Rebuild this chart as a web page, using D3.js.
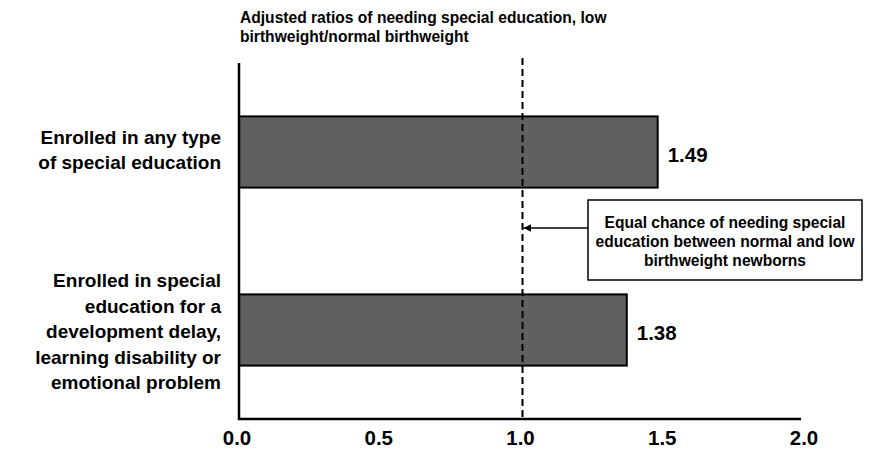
<!DOCTYPE html>
<html><head><meta charset="utf-8">
<script src="https://cdn.jsdelivr.net/npm/d3@7"></script>
<style>body{margin:0;background:#fff}svg{display:block;font-family:"Liberation Sans",Arial,sans-serif;font-weight:bold}</style>
</head><body><svg id="c" width="870" height="461"></svg>
<script>
const categories = [
  ["Enrolled in any type","of special education"],
  ["Enrolled in special","education for a","development delay,","learning disability or","emotional problem"]
];
const values = [1.49, 1.38];
const valueLabels = ["1.49", "1.38"];
const ticks = [0, 0.5, 1.0, 1.5, 2.0];
const refValue = 1.0;
const titleLines = ["Adjusted ratios of needing special education, low","birthweight/normal birthweight"];
const noteLines = ["Equal chance of needing special","education between normal and low","birthweight newborns"];

const svg = d3.select("#c");
const x = d3.scaleLinear().domain([0,2]).range([239,801]);
const xl = d3.scaleLinear().domain([0,2]).range([237,804]);
const y = d3.scaleBand().domain(d3.range(categories.length)).range([63,419]).paddingInner(0.6).paddingOuter(0.3);

svg.append("defs").append("marker").attr("id","ah").attr("viewBox","0 0 10 10")
  .attr("refX",10).attr("refY",5).attr("markerWidth",5).attr("markerHeight",5).attr("orient","auto")
  .append("path").attr("d","M0,0L10,5L0,10Z").attr("fill","#000");

// title
svg.append("text").attr("font-size",15.6)
  .selectAll("tspan").data(titleLines).join("tspan").attr("x",240).attr("y",(d,i)=>23+i*19).text(d=>d);

// bars
svg.selectAll("rect.bar").data(values).join("rect").attr("class","bar")
  .attr("x",x(0)).attr("y",(d,i)=>y(i)).attr("width",d=>x(d)-x(0)).attr("height",y.bandwidth())
  .attr("fill","#606060").attr("stroke","#000").attr("stroke-width",2);

// value labels
svg.selectAll("text.val").data(values).join("text").attr("class","val")
  .attr("x",d=>x(d)+10).attr("y",(d,i)=>y(i)+y.bandwidth()/2+10).attr("font-size",20.5).text((d,i)=>valueLabels[i]);

// axes
svg.append("line").attr("x1",x(0)).attr("x2",x(0)).attr("y1",63).attr("y2",420).attr("stroke","#000").attr("stroke-width",2.5);
svg.append("line").attr("x1",x(0)-1).attr("x2",x(2)).attr("y1",419).attr("y2",419).attr("stroke","#000").attr("stroke-width",2.5);

// tick labels
svg.selectAll("text.tick").data(ticks).join("text").attr("class","tick")
  .attr("x",d=>xl(d)).attr("y",445).attr("text-anchor","middle").attr("font-size",20.5).text(d=>d.toFixed(1));

// category labels
categories.forEach((lines,i)=>{
  const c = y(i)+y.bandwidth()/2 + (i===0?-3:1);
  const lh = i===0?25:25.5;
  const t = svg.append("text").attr("text-anchor","end").attr("font-size",19);
  lines.forEach((l,j)=>{
    t.append("tspan").attr("x",221).attr("y",c+7+(j-(lines.length-1)/2)*lh).text(l);
  });
});

// reference dashed line
svg.append("line").attr("x1",x(refValue)+2.5).attr("x2",x(refValue)+2.5).attr("y1",58).attr("y2",418)
  .attr("stroke","#000").attr("stroke-width",2).attr("stroke-dasharray","7,4");

// annotation box
const bx=588, by=200, bw=274, bh=80;
svg.append("rect").attr("x",bx).attr("y",by).attr("width",bw).attr("height",bh)
  .attr("fill","#fff").attr("stroke","#000").attr("stroke-width",1.5);
svg.append("text").attr("text-anchor","middle").attr("font-size",15.6)
  .selectAll("tspan").data(noteLines).join("tspan").attr("x",bx+bw/2).attr("y",(d,i)=>228+i*19).text(d=>d);
svg.append("line").attr("x1",bx).attr("x2",x(refValue)+3.5).attr("y1",228).attr("y2",228)
  .attr("stroke","#000").attr("stroke-width",1.5).attr("marker-end","url(#ah)");
</script></body></html>
